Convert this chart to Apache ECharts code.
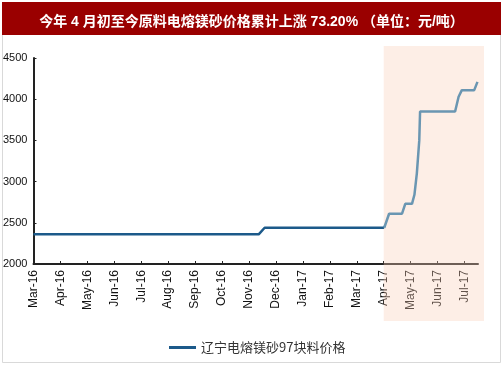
<!DOCTYPE html>
<html>
<head>
<meta charset="utf-8">
<script src="https://cdn.jsdelivr.net/npm/echarts@6/dist/echarts.min.js"></script>
<style>
  html, body { margin: 0; padding: 0; background: #ffffff; }
  #main { width: 503px; height: 378px; }
</style>
</head>
<body>
<div id="main"></div>
<script>
  // month tick labels, index 0 = Mar-16
  var months = ['Mar-16','Apr-16','May-16','Jun-16','Jul-16','Aug-16','Sep-16','Oct-16','Nov-16',
                'Dec-16','Jan-17','Feb-17','Mar-17','Apr-17','May-17','Jun-17','Jul-17'];
  // position in months since Mar-16
  var monthPos = [0, 8.36, 8.58, 13.02, 13.06, 13.2, 13.68, 13.8, 14.05, 14.14, 14.23, 14.32, 14.35, 15.65, 15.78, 15.9, 16.36, 16.48];
  // price (元/吨)
  var price    = [2360, 2360, 2440, 2440, 2450, 2610, 2610, 2730, 2730, 2840, 3100, 3500, 3850, 3850, 4030, 4110, 4110, 4210];
  var seriesName = '辽宁电熔镁砂97块料价格';
  var highlightFrom = 13; // Apr-17

  // split at the start of the shaded band so the part inside it can be tinted
  var before = [], after = [];
  for (var i = 0; i < monthPos.length; i++) {
    var p = [monthPos[i], price[i]];
    if (monthPos[i] <= highlightFrom + 0.05) before.push(p);
    if (monthPos[i] >= highlightFrom) after.push(p);
  }

  var myChart = echarts.init(document.getElementById('main'));
  var option = {
    backgroundColor: '#ffffff',
    animation: false,
    title: {
      text: '今年 4 月初至今原料电熔镁砂价格累计上涨 73.20% （单位：元/吨）',
      left: 'center',
      top: 10,
      textStyle: {
        color: '#ffffff',
        fontSize: 14,
        fontWeight: 'bold',
        fontFamily: 'Liberation Sans, Noto Sans CJK SC, sans-serif'
      }
    },
    legend: {
      data: [seriesName],
      left: 164,
      top: 336,
      icon: 'rect',
      itemWidth: 27,
      itemHeight: 3,
      itemGap: 8,
      textStyle: {
        color: '#333333',
        fontSize: 13,
        fontFamily: 'Noto Sans CJK SC, sans-serif'
      }
    },
    grid: {
      left: 33,
      right: 25,
      top: 58,
      bottom: 114,
      containLabel: false
    },
    xAxis: {
      type: 'value',
      min: 0,
      max: 16.5,
      interval: 1,
      splitLine: { show: false },
      axisLine: { lineStyle: { color: '#222222', width: 2 } },
      axisTick: { inside: true, length: 3, lineStyle: { color: '#222222' } },
      axisLabel: {
        rotate: 90,
        margin: 6,
        fontSize: 12,
        color: '#111111',
        fontFamily: 'Liberation Sans, Arial, sans-serif',
        showMaxLabel: false,
        formatter: function (v) {
          return months[Math.round(v)] || '';
        }
      }
    },
    yAxis: {
      type: 'value',
      min: 2000,
      max: 4500,
      interval: 500,
      splitLine: { show: false },
      axisLine: { show: true, lineStyle: { color: '#222222', width: 2 } },
      axisTick: { show: true, inside: true, length: 3, lineStyle: { color: '#222222' } },
      axisLabel: {
        margin: 6,
        fontSize: 11,
        color: '#111111',
        fontFamily: 'Liberation Sans Narrow, Arial Narrow, Liberation Sans, sans-serif',
        formatter: function (v) { return String(v); }
      }
    },
    series: [
      {
        name: seriesName,
        type: 'line',
        data: before,
        showSymbol: false,
        symbol: 'none',
        lineStyle: { color: '#1c5a8a', width: 2.5 },
        itemStyle: { color: '#1c5a8a' }
      },
      {
        name: seriesName,
        type: 'line',
        data: after,
        showSymbol: false,
        symbol: 'none',
        lineStyle: { color: '#1e78af', width: 2.5 },
        itemStyle: { color: '#1e78af' }
      }
    ]
  };
  myChart.setOption(option);

  // title bar, frame and the shaded "since April" band
  var x0 = myChart.convertToPixel({ xAxisIndex: 0 }, highlightFrom);
  myChart.setOption({
    graphic: [
      {
        type: 'rect', z: -10, silent: true,
        shape: { x: 2.5, y: 2.5, width: 498, height: 360 },
        style: { fill: '#ffffff', stroke: '#d9d9d9', lineWidth: 1 }
      },
      {
        type: 'rect', z: -5, silent: true,
        shape: { x: 2, y: 2, width: 499, height: 33 },
        style: { fill: '#9a0000' }
      },
      {
        type: 'rect', z: 100, silent: true,
        shape: { x: x0, y: 46, width: 484 - x0, height: 275 },
        style: { fill: 'rgba(248,206,184,0.35)' }
      }
    ]
  });
  window.addEventListener('resize', function () { myChart.resize(); });
</script>
</body>
</html>
